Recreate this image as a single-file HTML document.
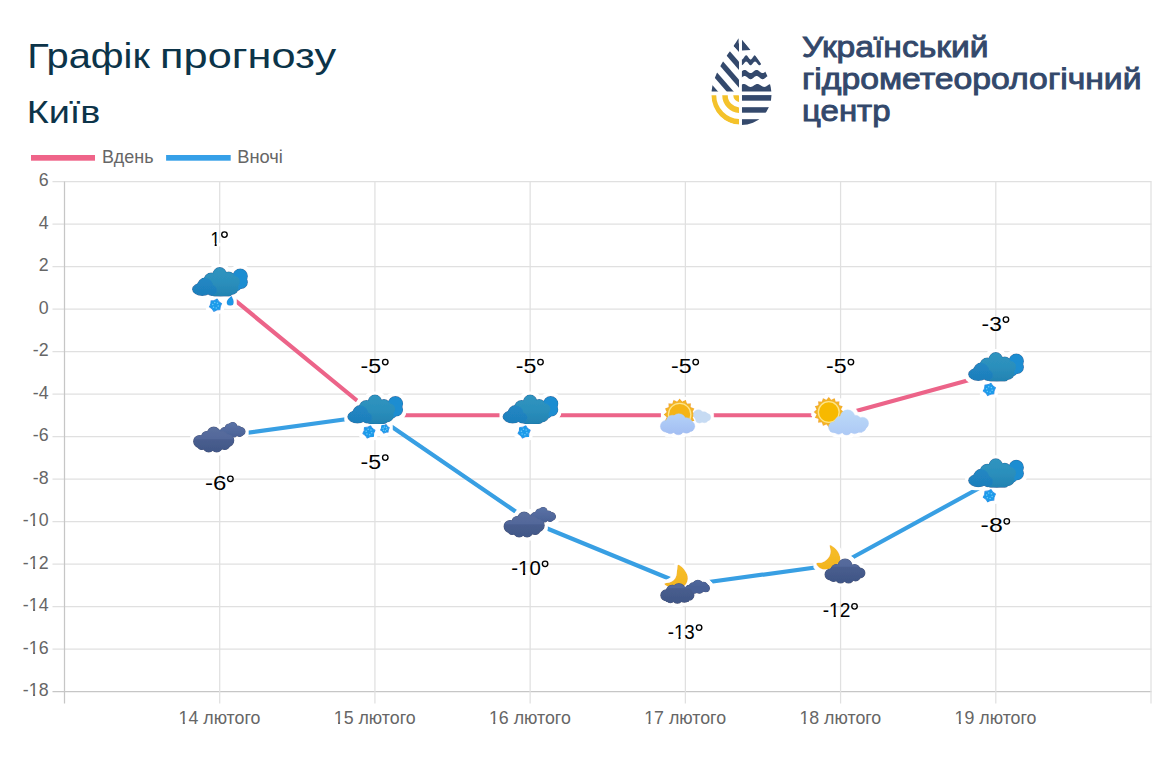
<!DOCTYPE html><html><head><meta charset="utf-8"><style>
html,body{margin:0;padding:0;background:#fff;width:1176px;height:767px;overflow:hidden}
svg{display:block}
text{font-family:"Liberation Sans",sans-serif}
</style></head><body>
<svg width="1176" height="767" viewBox="0 0 1176 767">
<defs>
<filter id="halo" x="-30%" y="-30%" width="160%" height="160%">
<feMorphology in="SourceAlpha" operator="dilate" radius="2.6" result="d"/>
<feFlood flood-color="#ffffff"/><feComposite in2="d" operator="in" result="w"/>
<feMerge><feMergeNode in="w"/><feMergeNode in="SourceGraphic"/></feMerge>
</filter>
<linearGradient id="gBlue" gradientUnits="userSpaceOnUse" x1="-27" y1="0" x2="27" y2="0">
<stop offset="0" stop-color="#1e7fc0"/><stop offset="0.5" stop-color="#2a91c2"/><stop offset="1" stop-color="#2190c8"/></linearGradient>
<linearGradient id="gTeal" gradientUnits="userSpaceOnUse" x1="0" y1="-20" x2="0" y2="8">
<stop offset="0" stop-color="#3094bf"/><stop offset="0.5" stop-color="#2b8fbc"/><stop offset="1" stop-color="#2383b2"/></linearGradient>
<linearGradient id="gFront" gradientUnits="userSpaceOnUse" x1="0" y1="-9" x2="0" y2="8">
<stop offset="0" stop-color="#2187c3"/><stop offset="1" stop-color="#1e7ebb"/></linearGradient>
<linearGradient id="gDark" gradientUnits="userSpaceOnUse" x1="0" y1="-9" x2="0" y2="16">
<stop offset="0" stop-color="#5a6f9e"/><stop offset="0.45" stop-color="#52679a"/><stop offset="0.5" stop-color="#485d8e"/><stop offset="1" stop-color="#415787"/></linearGradient>
<linearGradient id="gDarkB" gradientUnits="userSpaceOnUse" x1="0" y1="-14" x2="0" y2="1">
<stop offset="0" stop-color="#5a72a6"/><stop offset="1" stop-color="#4a6195"/></linearGradient>
<linearGradient id="gMoon" gradientUnits="userSpaceOnUse" x1="0" y1="-20" x2="0" y2="4">
<stop offset="0" stop-color="#f6be2c"/><stop offset="1" stop-color="#f3b51e"/></linearGradient>
<linearGradient id="gLight" gradientUnits="userSpaceOnUse" x1="0" y1="-2" x2="0" y2="20">
<stop offset="0" stop-color="#b4d2f8"/><stop offset="1" stop-color="#a2bdf2"/></linearGradient>
<linearGradient id="gLight2" gradientUnits="userSpaceOnUse" x1="0" y1="-5" x2="0" y2="20">
<stop offset="0" stop-color="#bcdaf8"/><stop offset="1" stop-color="#adc9f5"/></linearGradient>
<clipPath id="dropL"><path d="M740.5,37.5 C748,47 771.5,70 771.5,95 A30 30 0 0 1 711.5,95 C711.5,72 733,47 740.5,37.5 Z" transform="translate(0,0)"/></clipPath>
</defs>

<text x="27.19" y="67.5" font-size="35" fill="#0c3449" textLength="122.72" lengthAdjust="spacingAndGlyphs">Графік</text>
<text x="160.11" y="67.5" font-size="35" fill="#0c3449" textLength="175.97" lengthAdjust="spacingAndGlyphs">прогнозу</text>
<text x="26.7" y="122.6" font-size="31" fill="#0c3449" textLength="73.7" lengthAdjust="spacingAndGlyphs">Київ</text>
<g fill="#33486b" stroke="#33486b" stroke-width="0.9" font-size="29.5">
<text x="802.05" y="56.8" textLength="186.51" lengthAdjust="spacingAndGlyphs">Український</text>
<text x="801.92" y="88.5" textLength="339.65" lengthAdjust="spacingAndGlyphs">гідрометеорологічний</text>
<text x="802.07" y="120.8" textLength="88.45" lengthAdjust="spacingAndGlyphs">центр</text>
</g>
<g clip-path="url(#dropL)">
<g><clipPath id="lu"><rect x="700" y="30" width="39" height="61.6"/></clipPath></g>
<g clip-path="url(#lu)" stroke="#34496c" stroke-width="5.3" fill="none">
<line x1="654.6" y1="22.6" x2="734.6" y2="114.6"/>
<line x1="670.2" y1="22.6" x2="750.2" y2="114.6"/>
<line x1="685.8" y1="22.6" x2="765.8" y2="114.6"/>
<line x1="701.4" y1="22.6" x2="781.4" y2="114.6"/>
<line x1="717.0" y1="22.6" x2="797.0" y2="114.6"/>
<line x1="732.6" y1="22.6" x2="812.6" y2="114.6"/>
</g>
<g><clipPath id="ll"><rect x="700" y="95.2" width="39" height="40"/></clipPath></g>
<g clip-path="url(#ll)" stroke="#f4c22b" stroke-width="5.5" fill="none">
<circle cx="740" cy="95.2" r="4"/>
<circle cx="740" cy="95.2" r="15"/>
<circle cx="740" cy="95.2" r="26.5"/>
</g>
<g><clipPath id="rr"><rect x="741.9" y="30" width="40" height="100"/></clipPath></g>
<g clip-path="url(#rr)" fill="#34496c">
<path d="M741.9,39.4 L750.6,50.1 L741.9,50.4 Z"/>
<path d="M741.00,59.17 L741.25,59.34 L741.50,59.45 L741.75,59.50 L742.00,59.48 L742.25,59.39 L742.50,59.24 L742.75,59.04 L743.00,58.78 L743.25,58.47 L743.50,58.13 L743.75,57.77 L744.00,57.40 L744.25,57.03 L744.50,56.67 L744.75,56.33 L745.00,56.02 L745.25,55.76 L745.50,55.56 L745.75,55.41 L746.00,55.32 L746.25,55.30 L746.50,55.35 L746.75,55.46 L747.00,55.63 L747.25,55.86 L747.50,56.14 L747.75,56.46 L748.00,56.81 L748.25,57.18 L748.50,57.55 L748.75,57.92 L749.00,58.27 L749.25,58.60 L749.50,58.88 L749.75,59.12 L750.00,59.31 L750.25,59.43 L750.50,59.49 L750.75,59.49 L751.00,59.41 L751.25,59.28 L751.50,59.08 L751.75,58.83 L752.00,58.54 L752.25,58.20 L752.50,57.85 L752.75,57.47 L753.00,57.10 L753.25,56.74 L753.50,56.39 L753.75,56.08 L754.00,55.81 L754.25,55.59 L754.50,55.43 L754.75,55.33 L755.00,55.30 L755.25,55.33 L755.50,55.43 L755.75,55.59 L756.00,55.81 L756.25,56.08 L756.50,56.39 L756.75,56.74 L757.00,57.10 L757.25,57.47 L757.50,57.85 L757.75,58.20 L758.00,58.54 L758.25,58.83 L758.50,59.08 L758.75,59.28 L759.00,59.41 L759.25,59.49 L759.50,59.49 L759.75,59.43 L760.00,59.31 L760.25,59.12 L760.50,58.88 L760.75,58.60 L761.00,58.27 L761.25,57.92 L761.50,57.55 L761.75,57.18 L762.00,56.81 L762.25,56.46 L762.50,56.14 L762.75,55.86 L763.00,55.63 L763.25,55.46 L763.50,55.35 L763.75,55.30 L764.00,55.32 L764.25,55.41 L764.50,55.56 L764.75,55.76 L765.00,56.02 L765.25,56.33 L765.50,56.67 L765.75,57.03 L766.00,57.40 L766.25,57.77 L766.50,58.13 L766.75,58.47 L767.00,58.78 L767.25,59.04 L767.50,59.24 L767.75,59.39 L768.00,59.48 L768.25,59.50 L768.50,59.45 L768.75,59.34 L769.00,59.17 L769.25,58.94 L769.50,58.66 L769.75,58.34 L770.00,57.99 L770.25,57.62 L770.50,57.25 L770.75,56.88 L771.00,56.53 L771.25,56.20 L771.50,55.92 L771.75,55.68 L772.00,55.49 L772.25,55.37 L772.50,55.31 L772.75,55.31 L773.00,55.39 L773.25,55.52 L773.50,55.72 L773.75,55.97 L774.00,56.26 L774.25,56.60 L774.50,56.95 L774.75,57.33 L775.00,57.70 L775.00,63.66 L774.75,63.34 L774.50,63.02 L774.25,62.71 L774.00,62.43 L773.75,62.17 L773.50,61.96 L773.25,61.79 L773.00,61.67 L772.75,61.61 L772.50,61.60 L772.25,61.66 L772.00,61.76 L771.75,61.92 L771.50,62.13 L771.25,62.37 L771.00,62.65 L770.75,62.95 L770.50,63.27 L770.25,63.59 L770.00,63.91 L769.75,64.21 L769.50,64.48 L769.25,64.72 L769.00,64.91 L768.75,65.06 L768.50,65.16 L768.25,65.20 L768.00,65.18 L767.75,65.11 L767.50,64.98 L767.25,64.80 L767.00,64.58 L766.75,64.32 L766.50,64.03 L766.25,63.72 L766.00,63.40 L765.75,63.08 L765.50,62.77 L765.25,62.48 L765.00,62.22 L764.75,62.00 L764.50,61.82 L764.25,61.69 L764.00,61.62 L763.75,61.60 L763.50,61.64 L763.25,61.74 L763.00,61.89 L762.75,62.08 L762.50,62.32 L762.25,62.59 L762.00,62.89 L761.75,63.21 L761.50,63.53 L761.25,63.85 L761.00,64.15 L760.75,64.43 L760.50,64.67 L760.25,64.88 L760.00,65.04 L759.75,65.14 L759.50,65.20 L759.25,65.19 L759.00,65.13 L758.75,65.01 L758.50,64.84 L758.25,64.63 L758.00,64.37 L757.75,64.09 L757.50,63.78 L757.25,63.46 L757.00,63.14 L756.75,62.83 L756.50,62.54 L756.25,62.27 L756.00,62.04 L755.75,61.85 L755.50,61.71 L755.25,61.63 L755.00,61.60 L754.75,61.63 L754.50,61.71 L754.25,61.85 L754.00,62.04 L753.75,62.27 L753.50,62.54 L753.25,62.83 L753.00,63.14 L752.75,63.46 L752.50,63.78 L752.25,64.09 L752.00,64.37 L751.75,64.63 L751.50,64.84 L751.25,65.01 L751.00,65.13 L750.75,65.19 L750.50,65.20 L750.25,65.14 L750.00,65.04 L749.75,64.88 L749.50,64.67 L749.25,64.43 L749.00,64.15 L748.75,63.85 L748.50,63.53 L748.25,63.21 L748.00,62.89 L747.75,62.59 L747.50,62.32 L747.25,62.08 L747.00,61.89 L746.75,61.74 L746.50,61.64 L746.25,61.60 L746.00,61.62 L745.75,61.69 L745.50,61.82 L745.25,62.00 L745.00,62.22 L744.75,62.48 L744.50,62.77 L744.25,63.08 L744.00,63.40 L743.75,63.72 L743.50,64.03 L743.25,64.32 L743.00,64.58 L742.75,64.80 L742.50,64.98 L742.25,65.11 L742.00,65.18 L741.75,65.20 L741.50,65.16 L741.25,65.06 L741.00,64.91 Z"/>
<path d="M741.00,71.99 L741.25,71.79 L741.50,71.58 L741.75,71.37 L742.00,71.17 L742.25,70.97 L742.50,70.77 L742.75,70.59 L743.00,70.43 L743.25,70.28 L743.50,70.16 L743.75,70.06 L744.00,69.98 L744.25,69.93 L744.50,69.90 L744.75,69.90 L745.00,69.93 L745.25,69.99 L745.50,70.07 L745.75,70.18 L746.00,70.31 L746.25,70.46 L746.50,70.63 L746.75,70.81 L747.00,71.01 L747.25,71.21 L747.50,71.42 L747.75,71.63 L748.00,71.83 L748.25,72.03 L748.50,72.23 L748.75,72.41 L749.00,72.57 L749.25,72.72 L749.50,72.84 L749.75,72.94 L750.00,73.02 L750.25,73.07 L750.50,73.10 L750.75,73.10 L751.00,73.07 L751.25,73.01 L751.50,72.93 L751.75,72.82 L752.00,72.69 L752.25,72.54 L752.50,72.37 L752.75,72.19 L753.00,71.99 L753.25,71.79 L753.50,71.58 L753.75,71.37 L754.00,71.17 L754.25,70.97 L754.50,70.77 L754.75,70.59 L755.00,70.43 L755.25,70.28 L755.50,70.16 L755.75,70.06 L756.00,69.98 L756.25,69.93 L756.50,69.90 L756.75,69.90 L757.00,69.93 L757.25,69.99 L757.50,70.07 L757.75,70.18 L758.00,70.31 L758.25,70.46 L758.50,70.63 L758.75,70.81 L759.00,71.01 L759.25,71.21 L759.50,71.42 L759.75,71.63 L760.00,71.83 L760.25,72.03 L760.50,72.23 L760.75,72.41 L761.00,72.57 L761.25,72.72 L761.50,72.84 L761.75,72.94 L762.00,73.02 L762.25,73.07 L762.50,73.10 L762.75,73.10 L763.00,73.07 L763.25,73.01 L763.50,72.93 L763.75,72.82 L764.00,72.69 L764.25,72.54 L764.50,72.37 L764.75,72.19 L765.00,71.99 L765.25,71.79 L765.50,71.58 L765.75,71.37 L766.00,71.17 L766.25,70.97 L766.50,70.77 L766.75,70.59 L767.00,70.43 L767.25,70.28 L767.50,70.16 L767.75,70.06 L768.00,69.98 L768.25,69.93 L768.50,69.90 L768.75,69.90 L769.00,69.93 L769.25,69.99 L769.50,70.07 L769.75,70.18 L770.00,70.31 L770.25,70.46 L770.50,70.63 L770.75,70.81 L771.00,71.01 L771.25,71.21 L771.50,71.42 L771.75,71.63 L772.00,71.83 L772.25,72.03 L772.50,72.23 L772.75,72.41 L773.00,72.57 L773.25,72.72 L773.50,72.84 L773.75,72.94 L774.00,73.02 L774.25,73.07 L774.50,73.10 L774.75,73.10 L775.00,73.07 L775.00,79.17 L774.75,79.20 L774.50,79.20 L774.25,79.17 L774.00,79.12 L773.75,79.04 L773.50,78.94 L773.25,78.82 L773.00,78.67 L772.75,78.51 L772.50,78.33 L772.25,78.13 L772.00,77.93 L771.75,77.73 L771.50,77.52 L771.25,77.31 L771.00,77.11 L770.75,76.91 L770.50,76.73 L770.25,76.56 L770.00,76.41 L769.75,76.28 L769.50,76.17 L769.25,76.09 L769.00,76.03 L768.75,76.00 L768.50,76.00 L768.25,76.03 L768.00,76.08 L767.75,76.16 L767.50,76.26 L767.25,76.38 L767.00,76.53 L766.75,76.69 L766.50,76.87 L766.25,77.07 L766.00,77.27 L765.75,77.47 L765.50,77.68 L765.25,77.89 L765.00,78.09 L764.75,78.29 L764.50,78.47 L764.25,78.64 L764.00,78.79 L763.75,78.92 L763.50,79.03 L763.25,79.11 L763.00,79.17 L762.75,79.20 L762.50,79.20 L762.25,79.17 L762.00,79.12 L761.75,79.04 L761.50,78.94 L761.25,78.82 L761.00,78.67 L760.75,78.51 L760.50,78.33 L760.25,78.13 L760.00,77.93 L759.75,77.73 L759.50,77.52 L759.25,77.31 L759.00,77.11 L758.75,76.91 L758.50,76.73 L758.25,76.56 L758.00,76.41 L757.75,76.28 L757.50,76.17 L757.25,76.09 L757.00,76.03 L756.75,76.00 L756.50,76.00 L756.25,76.03 L756.00,76.08 L755.75,76.16 L755.50,76.26 L755.25,76.38 L755.00,76.53 L754.75,76.69 L754.50,76.87 L754.25,77.07 L754.00,77.27 L753.75,77.47 L753.50,77.68 L753.25,77.89 L753.00,78.09 L752.75,78.29 L752.50,78.47 L752.25,78.64 L752.00,78.79 L751.75,78.92 L751.50,79.03 L751.25,79.11 L751.00,79.17 L750.75,79.20 L750.50,79.20 L750.25,79.17 L750.00,79.12 L749.75,79.04 L749.50,78.94 L749.25,78.82 L749.00,78.67 L748.75,78.51 L748.50,78.33 L748.25,78.13 L748.00,77.93 L747.75,77.73 L747.50,77.52 L747.25,77.31 L747.00,77.11 L746.75,76.91 L746.50,76.73 L746.25,76.56 L746.00,76.41 L745.75,76.28 L745.50,76.17 L745.25,76.09 L745.00,76.03 L744.75,76.00 L744.50,76.00 L744.25,76.03 L744.00,76.08 L743.75,76.16 L743.50,76.26 L743.25,76.38 L743.00,76.53 L742.75,76.69 L742.50,76.87 L742.25,77.07 L742.00,77.27 L741.75,77.47 L741.50,77.68 L741.25,77.89 L741.00,78.09 Z"/>
<path d="M741.00,85.05 L741.25,84.90 L741.50,84.74 L741.75,84.60 L742.00,84.47 L742.25,84.36 L742.50,84.25 L742.75,84.17 L743.00,84.10 L743.25,84.05 L743.50,84.01 L743.75,84.00 L744.00,84.01 L744.25,84.03 L744.50,84.08 L744.75,84.14 L745.00,84.22 L745.25,84.31 L745.50,84.42 L745.75,84.55 L746.00,84.69 L746.25,84.83 L746.50,84.99 L746.75,85.15 L747.00,85.32 L747.25,85.48 L747.50,85.65 L747.75,85.81 L748.00,85.97 L748.25,86.13 L748.50,86.27 L748.75,86.40 L749.00,86.52 L749.25,86.63 L749.50,86.72 L749.75,86.79 L750.00,86.84 L750.25,86.88 L750.50,86.90 L750.75,86.90 L751.00,86.88 L751.25,86.84 L751.50,86.78 L751.75,86.70 L752.00,86.61 L752.25,86.50 L752.50,86.38 L752.75,86.24 L753.00,86.10 L753.25,85.94 L753.50,85.78 L753.75,85.62 L754.00,85.45 L754.25,85.28 L754.50,85.12 L754.75,84.96 L755.00,84.80 L755.25,84.66 L755.50,84.52 L755.75,84.40 L756.00,84.29 L756.25,84.20 L756.50,84.12 L756.75,84.06 L757.00,84.02 L757.25,84.00 L757.50,84.00 L757.75,84.02 L758.00,84.06 L758.25,84.11 L758.50,84.18 L758.75,84.27 L759.00,84.38 L759.25,84.50 L759.50,84.63 L759.75,84.77 L760.00,84.93 L760.25,85.09 L760.50,85.25 L760.75,85.42 L761.00,85.58 L761.25,85.75 L761.50,85.91 L761.75,86.07 L762.00,86.21 L762.25,86.35 L762.50,86.48 L762.75,86.59 L763.00,86.68 L763.25,86.76 L763.50,86.82 L763.75,86.87 L764.00,86.89 L764.25,86.90 L764.50,86.89 L764.75,86.85 L765.00,86.80 L765.25,86.73 L765.50,86.65 L765.75,86.54 L766.00,86.43 L766.25,86.30 L766.50,86.16 L766.75,86.00 L767.00,85.85 L767.25,85.68 L767.50,85.52 L767.75,85.35 L768.00,85.18 L768.25,85.02 L768.50,84.86 L768.75,84.72 L769.00,84.58 L769.25,84.45 L769.50,84.33 L769.75,84.24 L770.00,84.15 L770.25,84.09 L770.50,84.04 L770.75,84.01 L771.00,84.00 L771.25,84.01 L771.50,84.04 L771.75,84.09 L772.00,84.15 L772.25,84.24 L772.50,84.33 L772.75,84.45 L773.00,84.58 L773.25,84.72 L773.50,84.86 L773.75,85.02 L774.00,85.18 L774.25,85.35 L774.50,85.52 L774.75,85.68 L775.00,85.85 L775.00,91.6 L741.00,91.6 Z"/>
<rect x="741.9" y="95.1" width="40" height="5.6"/>
<rect x="741.9" y="107.2" width="40" height="5.5"/>
<rect x="741.9" y="119.2" width="40" height="6"/>
</g>
</g>
<path d="M733.6,46 L738.6,38.2 L738.6,50.8 Z" fill="#34496c"/>
<rect x="31" y="155" width="64" height="5.7" fill="#ef6489"/>
<text x="102.14" y="162.7" font-size="17.8" fill="#666" textLength="51.4" lengthAdjust="spacingAndGlyphs">Вдень</text>
<rect x="166.1" y="155" width="64.6" height="5.7" fill="#36a0e8"/>
<text x="237.21" y="162.7" font-size="17.8" fill="#666" textLength="45.61" lengthAdjust="spacingAndGlyphs">Вночі</text>
<line x1="52.5" y1="181.50" x2="1151.5" y2="181.50" stroke="#e0e0e0" stroke-width="1.25"/>
<text x="38.70" y="186.40" font-size="17.8" fill="#666">6</text>

<line x1="52.5" y1="224.00" x2="1151.5" y2="224.00" stroke="#e0e0e0" stroke-width="1.25"/>
<text x="38.70" y="228.90" font-size="17.8" fill="#666">4</text>

<line x1="52.5" y1="266.50" x2="1151.5" y2="266.50" stroke="#e0e0e0" stroke-width="1.25"/>
<text x="38.70" y="271.40" font-size="17.8" fill="#666">2</text>

<line x1="52.5" y1="309.00" x2="1151.5" y2="309.00" stroke="#e0e0e0" stroke-width="1.25"/>
<text x="38.70" y="313.90" font-size="17.8" fill="#666">0</text>

<line x1="52.5" y1="351.50" x2="1151.5" y2="351.50" stroke="#e0e0e0" stroke-width="1.25"/>
<text x="32.77" y="356.40" font-size="17.8" fill="#666">-2</text>

<line x1="52.5" y1="394.00" x2="1151.5" y2="394.00" stroke="#e0e0e0" stroke-width="1.25"/>
<text x="32.77" y="398.90" font-size="17.8" fill="#666">-4</text>

<line x1="52.5" y1="436.50" x2="1151.5" y2="436.50" stroke="#e0e0e0" stroke-width="1.25"/>
<text x="32.77" y="441.40" font-size="17.8" fill="#666">-6</text>

<line x1="52.5" y1="479.00" x2="1151.5" y2="479.00" stroke="#e0e0e0" stroke-width="1.25"/>
<text x="32.77" y="483.90" font-size="17.8" fill="#666">-8</text>

<line x1="52.5" y1="521.50" x2="1151.5" y2="521.50" stroke="#e0e0e0" stroke-width="1.25"/>
<text x="22.87" y="526.40" font-size="17.8" fill="#666">-10</text>
<rect x="28.80" y="523.91" width="4.22" height="3.39" fill="#fff"/><rect x="35.10" y="523.91" width="4.08" height="3.39" fill="#fff"/>
<line x1="52.5" y1="564.00" x2="1151.5" y2="564.00" stroke="#e0e0e0" stroke-width="1.25"/>
<text x="22.87" y="568.90" font-size="17.8" fill="#666">-12</text>
<rect x="28.80" y="566.41" width="4.22" height="3.39" fill="#fff"/><rect x="35.10" y="566.41" width="4.08" height="3.39" fill="#fff"/>
<line x1="52.5" y1="606.50" x2="1151.5" y2="606.50" stroke="#e0e0e0" stroke-width="1.25"/>
<text x="22.87" y="611.40" font-size="17.8" fill="#666">-14</text>
<rect x="28.80" y="608.91" width="4.22" height="3.39" fill="#fff"/><rect x="35.10" y="608.91" width="4.08" height="3.39" fill="#fff"/>
<line x1="52.5" y1="649.00" x2="1151.5" y2="649.00" stroke="#e0e0e0" stroke-width="1.25"/>
<text x="22.87" y="653.90" font-size="17.8" fill="#666">-16</text>
<rect x="28.80" y="651.41" width="4.22" height="3.39" fill="#fff"/><rect x="35.10" y="651.41" width="4.08" height="3.39" fill="#fff"/>
<line x1="52.5" y1="691.50" x2="1151.5" y2="691.50" stroke="#c6c6c6" stroke-width="1.25"/>
<text x="22.87" y="696.40" font-size="17.8" fill="#666">-18</text>
<rect x="28.80" y="693.91" width="4.22" height="3.39" fill="#fff"/><rect x="35.10" y="693.91" width="4.08" height="3.39" fill="#fff"/>
<line x1="64.50" y1="181.5" x2="64.50" y2="703.5" stroke="#c6c6c6" stroke-width="1.25"/>
<line x1="219.71" y1="181.5" x2="219.71" y2="703.5" stroke="#e0e0e0" stroke-width="1.25"/>
<line x1="374.93" y1="181.5" x2="374.93" y2="703.5" stroke="#e0e0e0" stroke-width="1.25"/>
<line x1="530.14" y1="181.5" x2="530.14" y2="703.5" stroke="#e0e0e0" stroke-width="1.25"/>
<line x1="685.36" y1="181.5" x2="685.36" y2="703.5" stroke="#e0e0e0" stroke-width="1.25"/>
<line x1="840.57" y1="181.5" x2="840.57" y2="703.5" stroke="#e0e0e0" stroke-width="1.25"/>
<line x1="995.79" y1="181.5" x2="995.79" y2="703.5" stroke="#e0e0e0" stroke-width="1.25"/>
<line x1="1151.00" y1="181.5" x2="1151.00" y2="703.5" stroke="#e0e0e0" stroke-width="1.25"/>
<text x="178.55" y="723.7" font-size="17.8" fill="#666">14 лютого</text>
<rect x="178.56" y="721.21" width="4.22" height="3.39" fill="#fff"/><rect x="184.85" y="721.21" width="4.08" height="3.39" fill="#fff"/>
<text x="333.77" y="723.7" font-size="17.8" fill="#666">15 лютого</text>
<rect x="333.77" y="721.21" width="4.22" height="3.39" fill="#fff"/><rect x="340.07" y="721.21" width="4.08" height="3.39" fill="#fff"/>
<text x="488.98" y="723.7" font-size="17.8" fill="#666">16 лютого</text>
<rect x="488.98" y="721.21" width="4.22" height="3.39" fill="#fff"/><rect x="495.28" y="721.21" width="4.08" height="3.39" fill="#fff"/>
<text x="644.19" y="723.7" font-size="17.8" fill="#666">17 лютого</text>
<rect x="644.20" y="721.21" width="4.22" height="3.39" fill="#fff"/><rect x="650.49" y="721.21" width="4.08" height="3.39" fill="#fff"/>
<text x="799.41" y="723.7" font-size="17.8" fill="#666">18 лютого</text>
<rect x="799.41" y="721.21" width="4.22" height="3.39" fill="#fff"/><rect x="805.71" y="721.21" width="4.08" height="3.39" fill="#fff"/>
<text x="954.62" y="723.7" font-size="17.8" fill="#666">19 лютого</text>
<rect x="954.63" y="721.21" width="4.22" height="3.39" fill="#fff"/><rect x="960.92" y="721.21" width="4.08" height="3.39" fill="#fff"/>
<polyline points="219.71,436.50 374.93,415.25 530.14,521.50 685.36,585.25 840.57,564.00 995.79,479.00" fill="none" stroke="#389fe3" stroke-width="4.2" stroke-linejoin="round"/>
<polyline points="219.71,287.75 374.93,415.25 530.14,415.25 685.36,415.25 840.57,415.25 995.79,372.75" fill="none" stroke="#ec6489" stroke-width="4.2" stroke-linejoin="round"/>
<g transform="translate(219.71,436.50)" filter="url(#halo)"><g fill="#3c4f7c" stroke="#3c4f7c" stroke-width="1.2"><circle cx="1" cy="-3" r="3.5"/><circle cx="5" cy="-5" r="4"/><circle cx="9.5" cy="-8.5" r="4"/><circle cx="13" cy="-10" r="4"/><circle cx="18" cy="-6.5" r="4"/><circle cx="21.5" cy="-5" r="3.8"/><circle cx="14" cy="-3" r="3.5"/><circle cx="20" cy="-3" r="3"/><circle cx="8" cy="-3" r="3.5"/><circle cx="-20" cy="5" r="6"/><circle cx="-13" cy="0" r="5"/><circle cx="-6" cy="-3" r="6.3"/><circle cx="2" cy="1" r="6"/><circle cx="8" cy="4" r="6"/><circle cx="-18" cy="9" r="4"/><circle cx="-11" cy="10" r="5.5"/><circle cx="-3" cy="10" r="5.5"/><circle cx="5" cy="8" r="5"/><rect x="-20" y="0" width="26" height="12"/></g><g fill="url(#gDarkB)" stroke="url(#gDarkB)" stroke-width="0.5"><circle cx="1" cy="-3" r="3.5"/><circle cx="5" cy="-5" r="4"/><circle cx="9.5" cy="-8.5" r="4"/><circle cx="13" cy="-10" r="4"/><circle cx="18" cy="-6.5" r="4"/><circle cx="21.5" cy="-5" r="3.8"/><circle cx="14" cy="-3" r="3.5"/><circle cx="20" cy="-3" r="3"/><circle cx="8" cy="-3" r="3.5"/></g><g fill="url(#gDark)" stroke="url(#gDark)" stroke-width="0.5"><circle cx="-20" cy="5" r="6"/><circle cx="-13" cy="0" r="5"/><circle cx="-6" cy="-3" r="6.3"/><circle cx="2" cy="1" r="6"/><circle cx="8" cy="4" r="6"/><circle cx="-18" cy="9" r="4"/><circle cx="-11" cy="10" r="5.5"/><circle cx="-3" cy="10" r="5.5"/><circle cx="5" cy="8" r="5"/><rect x="-20" y="0" width="26" height="12"/></g></g>
<g transform="translate(530.14,521.50)" filter="url(#halo)"><g fill="#3c4f7c" stroke="#3c4f7c" stroke-width="1.2"><circle cx="1" cy="-3" r="3.5"/><circle cx="5" cy="-5" r="4"/><circle cx="9.5" cy="-8.5" r="4"/><circle cx="13" cy="-10" r="4"/><circle cx="18" cy="-6.5" r="4"/><circle cx="21.5" cy="-5" r="3.8"/><circle cx="14" cy="-3" r="3.5"/><circle cx="20" cy="-3" r="3"/><circle cx="8" cy="-3" r="3.5"/><circle cx="-20" cy="5" r="6"/><circle cx="-13" cy="0" r="5"/><circle cx="-6" cy="-3" r="6.3"/><circle cx="2" cy="1" r="6"/><circle cx="8" cy="4" r="6"/><circle cx="-18" cy="9" r="4"/><circle cx="-11" cy="10" r="5.5"/><circle cx="-3" cy="10" r="5.5"/><circle cx="5" cy="8" r="5"/><rect x="-20" y="0" width="26" height="12"/></g><g fill="url(#gDarkB)" stroke="url(#gDarkB)" stroke-width="0.5"><circle cx="1" cy="-3" r="3.5"/><circle cx="5" cy="-5" r="4"/><circle cx="9.5" cy="-8.5" r="4"/><circle cx="13" cy="-10" r="4"/><circle cx="18" cy="-6.5" r="4"/><circle cx="21.5" cy="-5" r="3.8"/><circle cx="14" cy="-3" r="3.5"/><circle cx="20" cy="-3" r="3"/><circle cx="8" cy="-3" r="3.5"/></g><g fill="url(#gDark)" stroke="url(#gDark)" stroke-width="0.5"><circle cx="-20" cy="5" r="6"/><circle cx="-13" cy="0" r="5"/><circle cx="-6" cy="-3" r="6.3"/><circle cx="2" cy="1" r="6"/><circle cx="8" cy="4" r="6"/><circle cx="-18" cy="9" r="4"/><circle cx="-11" cy="10" r="5.5"/><circle cx="-3" cy="10" r="5.5"/><circle cx="5" cy="8" r="5"/><rect x="-20" y="0" width="26" height="12"/></g></g>
<g transform="translate(685.36,585.25)" filter="url(#halo)"><path d="M-7.20,-20.60 C-6.20,-20.80 -3.65,-18.62 -2.20,-17.10 C-0.75,-15.58 0.72,-13.27 1.50,-11.50 C2.28,-9.73 2.60,-8.17 2.50,-6.50 C2.40,-4.83 1.58,-2.75 0.90,-1.50 C0.22,-0.25 -0.45,0.25 -1.60,1.00 C-2.75,1.75 -4.27,2.67 -6.00,3.00 C-7.73,3.33 -10.02,3.33 -12.00,3.00 C-13.98,2.67 -16.40,1.75 -17.90,1.00 C-19.40,0.25 -21.32,-0.88 -21.00,-1.50 C-20.68,-2.12 -17.57,-2.08 -16.00,-2.70 C-14.43,-3.32 -12.75,-4.05 -11.60,-5.20 C-10.45,-6.35 -9.67,-7.82 -9.10,-9.60 C-8.53,-11.38 -8.52,-14.07 -8.20,-15.90 C-7.88,-17.73 -8.20,-20.40 -7.20,-20.60 Z" fill="url(#gMoon)" /><g fill="#3c4f7c" stroke="#3c4f7c" stroke-width="1.2"><circle cx="4" cy="4" r="4"/><circle cx="8" cy="2" r="4.5"/><circle cx="12.5" cy="0" r="5"/><circle cx="18" cy="1.5" r="4.5"/><circle cx="20.5" cy="3" r="3.5"/><circle cx="14" cy="4" r="4"/><circle cx="9" cy="4.5" r="3.5"/><circle cx="-19" cy="10" r="5.5"/><circle cx="-13" cy="6" r="6"/><circle cx="-6.5" cy="5" r="6.5"/><circle cx="1" cy="8" r="6"/><circle cx="3.5" cy="10" r="5"/><circle cx="-15" cy="13" r="4.5"/><circle cx="-8" cy="13" r="5"/><circle cx="-1" cy="12" r="5"/><rect x="-19" y="6" width="22" height="10"/></g><g fill="url(#gDarkB)" stroke="url(#gDarkB)" stroke-width="0.5"><circle cx="4" cy="4" r="4"/><circle cx="8" cy="2" r="4.5"/><circle cx="12.5" cy="0" r="5"/><circle cx="18" cy="1.5" r="4.5"/><circle cx="20.5" cy="3" r="3.5"/><circle cx="14" cy="4" r="4"/><circle cx="9" cy="4.5" r="3.5"/></g><g fill="url(#gDark)" stroke="url(#gDark)" stroke-width="0.5"><circle cx="-19" cy="10" r="5.5"/><circle cx="-13" cy="6" r="6"/><circle cx="-6.5" cy="5" r="6.5"/><circle cx="1" cy="8" r="6"/><circle cx="3.5" cy="10" r="5"/><circle cx="-15" cy="13" r="4.5"/><circle cx="-8" cy="13" r="5"/><circle cx="-1" cy="12" r="5"/><rect x="-19" y="6" width="22" height="10"/></g></g>
<g transform="translate(840.57,564.00)" filter="url(#halo)"><path d="M-10.60,-19.00 C-9.65,-19.32 -5.87,-16.17 -4.30,-14.60 C-2.73,-13.03 -1.88,-11.17 -1.20,-9.60 C-0.53,-8.03 -0.25,-6.45 -0.25,-5.20 C-0.25,-3.95 -0.41,-3.30 -1.20,-2.10 C-1.99,-0.90 -3.53,0.90 -5.00,2.00 C-6.47,3.10 -8.23,3.93 -10.00,4.50 C-11.77,5.07 -13.83,5.45 -15.60,5.40 C-17.37,5.35 -19.15,5.18 -20.60,4.20 C-22.05,3.22 -24.62,0.45 -24.30,-0.50 C-23.98,-1.45 -20.37,-0.92 -18.70,-1.50 C-17.03,-2.08 -15.55,-2.97 -14.30,-4.00 C-13.05,-5.03 -11.92,-6.25 -11.20,-7.70 C-10.48,-9.15 -10.10,-10.82 -10.00,-12.70 C-9.90,-14.58 -11.55,-18.68 -10.60,-19.00 Z" fill="url(#gMoon)" /><g fill="#3c4f7c" stroke="#3c4f7c" stroke-width="1.2"><circle cx="-10" cy="10.5" r="5.5"/><circle cx="-4" cy="6" r="5.5"/><circle cx="4.5" cy="2" r="7"/><circle cx="14" cy="6" r="5.5"/><circle cx="19.5" cy="9" r="4.8"/><circle cx="-7" cy="13" r="4.5"/><circle cx="0" cy="14" r="5"/><circle cx="8" cy="14" r="5"/><circle cx="15" cy="12.5" r="4.5"/><rect x="-10" y="5" width="28" height="10"/></g><g fill="url(#gDark)" stroke="url(#gDark)" stroke-width="0.5"><circle cx="-10" cy="10.5" r="5.5"/><circle cx="-4" cy="6" r="5.5"/><circle cx="4.5" cy="2" r="7"/><circle cx="14" cy="6" r="5.5"/><circle cx="19.5" cy="9" r="4.8"/><circle cx="-7" cy="13" r="4.5"/><circle cx="0" cy="14" r="5"/><circle cx="8" cy="14" r="5"/><circle cx="15" cy="12.5" r="4.5"/><rect x="-10" y="5" width="28" height="10"/></g></g>
<g transform="translate(995.79,479.00)" filter="url(#halo)"><g fill="#1b72a6" stroke="#1b72a6" stroke-width="1.3"><circle cx="20.5" cy="-11.5" r="7"/><circle cx="21.5" cy="-5.5" r="6"/><circle cx="17" cy="-2" r="4.5"/><circle cx="-8.5" cy="-7.5" r="7"/><circle cx="0" cy="-13.5" r="6.5"/><circle cx="1" cy="-2" r="9.8"/><circle cx="9" cy="-9.5" r="6"/><circle cx="12" cy="0" r="6.5"/><circle cx="14.5" cy="-6" r="5.5"/><rect x="-8" y="-6" width="20" height="14" rx="3"/><ellipse cx="-17.5" cy="1.5" rx="9.5" ry="6"/><circle cx="-14.5" cy="-2" r="7.5"/><circle cx="-8" cy="2.5" r="5"/></g><g fill="#1d8dd1" stroke="#1d8dd1" stroke-width="0.5"><circle cx="20.5" cy="-11.5" r="7"/><circle cx="21.5" cy="-5.5" r="6"/><circle cx="17" cy="-2" r="4.5"/></g><g fill="url(#gTeal)" stroke="url(#gTeal)" stroke-width="0.5"><circle cx="-8.5" cy="-7.5" r="7"/><circle cx="0" cy="-13.5" r="6.5"/><circle cx="1" cy="-2" r="9.8"/><circle cx="9" cy="-9.5" r="6"/><circle cx="12" cy="0" r="6.5"/><circle cx="14.5" cy="-6" r="5.5"/><rect x="-8" y="-6" width="20" height="14" rx="3"/></g><g fill="url(#gFront)" stroke="url(#gFront)" stroke-width="0.5"><ellipse cx="-17.5" cy="1.5" rx="9.5" ry="6"/><circle cx="-14.5" cy="-2" r="7.5"/><circle cx="-8" cy="2.5" r="5"/></g><g transform="translate(-6.4,16.7)" fill="#1d9bea"><polygon points="6.09,-1.63 4.75,1.27 4.45,4.45 1.27,4.75 -1.63,6.09 -3.47,3.47 -6.09,1.63 -4.75,-1.27 -4.45,-4.45 -1.27,-4.75 1.63,-6.09 3.47,-3.47" stroke="#1d9bea" stroke-width="1.2" stroke-linejoin="round"/><circle cx="2.74" cy="0.73" r="0.75" fill="#6cc8fa"/><circle cx="0.73" cy="2.74" r="0.75" fill="#6cc8fa"/><circle cx="-2.00" cy="2.00" r="0.75" fill="#6cc8fa"/><circle cx="-2.74" cy="-0.73" r="0.75" fill="#6cc8fa"/><circle cx="-0.73" cy="-2.74" r="0.75" fill="#6cc8fa"/><circle cx="2.00" cy="-2.00" r="0.75" fill="#6cc8fa"/></g></g>
<g transform="translate(219.71,287.75)" filter="url(#halo)"><g fill="#1b72a6" stroke="#1b72a6" stroke-width="1.3"><circle cx="20.5" cy="-11.5" r="7"/><circle cx="21.5" cy="-5.5" r="6"/><circle cx="17" cy="-2" r="4.5"/><circle cx="-8.5" cy="-7.5" r="7"/><circle cx="0" cy="-13.5" r="6.5"/><circle cx="1" cy="-2" r="9.8"/><circle cx="9" cy="-9.5" r="6"/><circle cx="12" cy="0" r="6.5"/><circle cx="14.5" cy="-6" r="5.5"/><rect x="-8" y="-6" width="20" height="14" rx="3"/><ellipse cx="-17.5" cy="1.5" rx="9.5" ry="6"/><circle cx="-14.5" cy="-2" r="7.5"/><circle cx="-8" cy="2.5" r="5"/></g><g fill="#1d8dd1" stroke="#1d8dd1" stroke-width="0.5"><circle cx="20.5" cy="-11.5" r="7"/><circle cx="21.5" cy="-5.5" r="6"/><circle cx="17" cy="-2" r="4.5"/></g><g fill="url(#gTeal)" stroke="url(#gTeal)" stroke-width="0.5"><circle cx="-8.5" cy="-7.5" r="7"/><circle cx="0" cy="-13.5" r="6.5"/><circle cx="1" cy="-2" r="9.8"/><circle cx="9" cy="-9.5" r="6"/><circle cx="12" cy="0" r="6.5"/><circle cx="14.5" cy="-6" r="5.5"/><rect x="-8" y="-6" width="20" height="14" rx="3"/></g><g fill="url(#gFront)" stroke="url(#gFront)" stroke-width="0.5"><ellipse cx="-17.5" cy="1.5" rx="9.5" ry="6"/><circle cx="-14.5" cy="-2" r="7.5"/><circle cx="-8" cy="2.5" r="5"/></g><g transform="translate(-4.2,17.5)" fill="#1d9bea"><polygon points="6.09,-1.63 4.75,1.27 4.45,4.45 1.27,4.75 -1.63,6.09 -3.47,3.47 -6.09,1.63 -4.75,-1.27 -4.45,-4.45 -1.27,-4.75 1.63,-6.09 3.47,-3.47" stroke="#1d9bea" stroke-width="1.2" stroke-linejoin="round"/><circle cx="2.74" cy="0.73" r="0.75" fill="#6cc8fa"/><circle cx="0.73" cy="2.74" r="0.75" fill="#6cc8fa"/><circle cx="-2.00" cy="2.00" r="0.75" fill="#6cc8fa"/><circle cx="-2.74" cy="-0.73" r="0.75" fill="#6cc8fa"/><circle cx="-0.73" cy="-2.74" r="0.75" fill="#6cc8fa"/><circle cx="2.00" cy="-2.00" r="0.75" fill="#6cc8fa"/></g><path transform="translate(10.3,13)" d="M1.5,-5 C3,-2 4,0 3.8,1.5 A3.6 3.6 0 0 1 -3.4,1.5 C-3.4,-1 -0.5,-3 1.5,-5 Z" fill="#1d98e6"/></g>
<g transform="translate(374.93,415.25)" filter="url(#halo)"><g fill="#1b72a6" stroke="#1b72a6" stroke-width="1.3"><circle cx="20.5" cy="-11.5" r="7"/><circle cx="21.5" cy="-5.5" r="6"/><circle cx="17" cy="-2" r="4.5"/><circle cx="-8.5" cy="-7.5" r="7"/><circle cx="0" cy="-13.5" r="6.5"/><circle cx="1" cy="-2" r="9.8"/><circle cx="9" cy="-9.5" r="6"/><circle cx="12" cy="0" r="6.5"/><circle cx="14.5" cy="-6" r="5.5"/><rect x="-8" y="-6" width="20" height="14" rx="3"/><ellipse cx="-17.5" cy="1.5" rx="9.5" ry="6"/><circle cx="-14.5" cy="-2" r="7.5"/><circle cx="-8" cy="2.5" r="5"/></g><g fill="#1d8dd1" stroke="#1d8dd1" stroke-width="0.5"><circle cx="20.5" cy="-11.5" r="7"/><circle cx="21.5" cy="-5.5" r="6"/><circle cx="17" cy="-2" r="4.5"/></g><g fill="url(#gTeal)" stroke="url(#gTeal)" stroke-width="0.5"><circle cx="-8.5" cy="-7.5" r="7"/><circle cx="0" cy="-13.5" r="6.5"/><circle cx="1" cy="-2" r="9.8"/><circle cx="9" cy="-9.5" r="6"/><circle cx="12" cy="0" r="6.5"/><circle cx="14.5" cy="-6" r="5.5"/><rect x="-8" y="-6" width="20" height="14" rx="3"/></g><g fill="url(#gFront)" stroke="url(#gFront)" stroke-width="0.5"><ellipse cx="-17.5" cy="1.5" rx="9.5" ry="6"/><circle cx="-14.5" cy="-2" r="7.5"/><circle cx="-8" cy="2.5" r="5"/></g><g transform="translate(-6,16.7)" fill="#1d9bea"><polygon points="6.09,-1.63 4.75,1.27 4.45,4.45 1.27,4.75 -1.63,6.09 -3.47,3.47 -6.09,1.63 -4.75,-1.27 -4.45,-4.45 -1.27,-4.75 1.63,-6.09 3.47,-3.47" stroke="#1d9bea" stroke-width="1.2" stroke-linejoin="round"/><circle cx="2.74" cy="0.73" r="0.75" fill="#6cc8fa"/><circle cx="0.73" cy="2.74" r="0.75" fill="#6cc8fa"/><circle cx="-2.00" cy="2.00" r="0.75" fill="#6cc8fa"/><circle cx="-2.74" cy="-0.73" r="0.75" fill="#6cc8fa"/><circle cx="-0.73" cy="-2.74" r="0.75" fill="#6cc8fa"/><circle cx="2.00" cy="-2.00" r="0.75" fill="#6cc8fa"/></g><g transform="translate(10,13.6)" fill="#1d9bea"><polygon points="4.35,-1.16 3.39,0.91 3.18,3.18 0.91,3.39 -1.16,4.35 -2.48,2.48 -4.35,1.16 -3.39,-0.91 -3.18,-3.18 -0.91,-3.39 1.16,-4.35 2.48,-2.48" stroke="#1d9bea" stroke-width="1.2" stroke-linejoin="round"/><circle cx="1.96" cy="0.52" r="0.75" fill="#6cc8fa"/><circle cx="0.52" cy="1.96" r="0.75" fill="#6cc8fa"/><circle cx="-1.43" cy="1.43" r="0.75" fill="#6cc8fa"/><circle cx="-1.96" cy="-0.52" r="0.75" fill="#6cc8fa"/><circle cx="-0.52" cy="-1.96" r="0.75" fill="#6cc8fa"/><circle cx="1.43" cy="-1.43" r="0.75" fill="#6cc8fa"/></g></g>
<g transform="translate(530.14,415.25)" filter="url(#halo)"><g fill="#1b72a6" stroke="#1b72a6" stroke-width="1.3"><circle cx="20.5" cy="-11.5" r="7"/><circle cx="21.5" cy="-5.5" r="6"/><circle cx="17" cy="-2" r="4.5"/><circle cx="-8.5" cy="-7.5" r="7"/><circle cx="0" cy="-13.5" r="6.5"/><circle cx="1" cy="-2" r="9.8"/><circle cx="9" cy="-9.5" r="6"/><circle cx="12" cy="0" r="6.5"/><circle cx="14.5" cy="-6" r="5.5"/><rect x="-8" y="-6" width="20" height="14" rx="3"/><ellipse cx="-17.5" cy="1.5" rx="9.5" ry="6"/><circle cx="-14.5" cy="-2" r="7.5"/><circle cx="-8" cy="2.5" r="5"/></g><g fill="#1d8dd1" stroke="#1d8dd1" stroke-width="0.5"><circle cx="20.5" cy="-11.5" r="7"/><circle cx="21.5" cy="-5.5" r="6"/><circle cx="17" cy="-2" r="4.5"/></g><g fill="url(#gTeal)" stroke="url(#gTeal)" stroke-width="0.5"><circle cx="-8.5" cy="-7.5" r="7"/><circle cx="0" cy="-13.5" r="6.5"/><circle cx="1" cy="-2" r="9.8"/><circle cx="9" cy="-9.5" r="6"/><circle cx="12" cy="0" r="6.5"/><circle cx="14.5" cy="-6" r="5.5"/><rect x="-8" y="-6" width="20" height="14" rx="3"/></g><g fill="url(#gFront)" stroke="url(#gFront)" stroke-width="0.5"><ellipse cx="-17.5" cy="1.5" rx="9.5" ry="6"/><circle cx="-14.5" cy="-2" r="7.5"/><circle cx="-8" cy="2.5" r="5"/></g><g transform="translate(-6,16.7)" fill="#1d9bea"><polygon points="6.09,-1.63 4.75,1.27 4.45,4.45 1.27,4.75 -1.63,6.09 -3.47,3.47 -6.09,1.63 -4.75,-1.27 -4.45,-4.45 -1.27,-4.75 1.63,-6.09 3.47,-3.47" stroke="#1d9bea" stroke-width="1.2" stroke-linejoin="round"/><circle cx="2.74" cy="0.73" r="0.75" fill="#6cc8fa"/><circle cx="0.73" cy="2.74" r="0.75" fill="#6cc8fa"/><circle cx="-2.00" cy="2.00" r="0.75" fill="#6cc8fa"/><circle cx="-2.74" cy="-0.73" r="0.75" fill="#6cc8fa"/><circle cx="-0.73" cy="-2.74" r="0.75" fill="#6cc8fa"/><circle cx="2.00" cy="-2.00" r="0.75" fill="#6cc8fa"/></g></g>
<g transform="translate(685.36,415.25)" filter="url(#halo)"><g transform="translate(-5.7,-0.7)"><polygon points="16.00,0.00 13.14,2.61 14.78,6.12 11.14,7.44 11.31,11.31 7.44,11.14 6.12,14.78 2.61,13.14 0.00,16.00 -2.61,13.14 -6.12,14.78 -7.44,11.14 -11.31,11.31 -11.14,7.44 -14.78,6.12 -13.14,2.61 -16.00,0.00 -13.14,-2.61 -14.78,-6.12 -11.14,-7.44 -11.31,-11.31 -7.44,-11.14 -6.12,-14.78 -2.61,-13.14 -0.00,-16.00 2.61,-13.14 6.12,-14.78 7.44,-11.14 11.31,-11.31 11.14,-7.44 14.78,-6.12 13.14,-2.61" fill="#f3b328"/><circle r="11.20" fill="#f5b416" stroke="#fde58a" stroke-width="1.3"/></g><g fill="#c6dbf3" stroke="#c6dbf3" stroke-width="0.5"><circle cx="13" cy="-0.5" r="5"/><circle cx="18.5" cy="1" r="4.5"/><circle cx="21.5" cy="2" r="3.8"/><circle cx="14" cy="4" r="3.8"/><circle cx="19" cy="4" r="3.5"/></g><g fill="url(#gLight)" stroke="url(#gLight)" stroke-width="0.5"><circle cx="-19" cy="11" r="6"/><circle cx="-13" cy="6" r="6"/><circle cx="-6.5" cy="5.5" r="7"/><circle cx="1" cy="8.5" r="6"/><circle cx="4" cy="11" r="5.5"/><circle cx="-15" cy="14" r="4.5"/><circle cx="-7" cy="14" r="5.5"/><circle cx="1" cy="13.5" r="4.5"/><rect x="-19" y="6" width="23" height="11"/></g></g>
<g transform="translate(840.57,415.25)" filter="url(#halo)"><g transform="translate(-11.8,-3.2)"><polygon points="15.20,0.00 12.36,2.46 14.04,5.82 10.48,7.00 10.75,10.75 7.00,10.48 5.82,14.04 2.46,12.36 0.00,15.20 -2.46,12.36 -5.82,14.04 -7.00,10.48 -10.75,10.75 -10.48,7.00 -14.04,5.82 -12.36,2.46 -15.20,0.00 -12.36,-2.46 -14.04,-5.82 -10.48,-7.00 -10.75,-10.75 -7.00,-10.48 -5.82,-14.04 -2.46,-12.36 -0.00,-15.20 2.46,-12.36 5.82,-14.04 7.00,-10.48 10.75,-10.75 10.48,-7.00 14.04,-5.82 12.36,-2.46" fill="#f3b328"/><circle r="10.40" fill="#f7b900" stroke="#fde58a" stroke-width="1.3"/></g><g fill="url(#gLight2)" stroke="url(#gLight2)" stroke-width="0.5"><circle cx="-6.5" cy="12" r="5.5"/><circle cx="0" cy="7" r="6"/><circle cx="7" cy="2" r="7.4"/><circle cx="15" cy="5.5" r="5.5"/><circle cx="22" cy="8" r="6"/><circle cx="-2" cy="14" r="5"/><circle cx="6" cy="14.5" r="5.2"/><circle cx="14" cy="13.5" r="5"/><circle cx="21" cy="12" r="4.5"/><rect x="-6.5" y="7" width="28" height="10"/></g></g>
<g transform="translate(995.79,372.75)" filter="url(#halo)"><g fill="#1b72a6" stroke="#1b72a6" stroke-width="1.3"><circle cx="20.5" cy="-11.5" r="7"/><circle cx="21.5" cy="-5.5" r="6"/><circle cx="17" cy="-2" r="4.5"/><circle cx="-8.5" cy="-7.5" r="7"/><circle cx="0" cy="-13.5" r="6.5"/><circle cx="1" cy="-2" r="9.8"/><circle cx="9" cy="-9.5" r="6"/><circle cx="12" cy="0" r="6.5"/><circle cx="14.5" cy="-6" r="5.5"/><rect x="-8" y="-6" width="20" height="14" rx="3"/><ellipse cx="-17.5" cy="1.5" rx="9.5" ry="6"/><circle cx="-14.5" cy="-2" r="7.5"/><circle cx="-8" cy="2.5" r="5"/></g><g fill="#1d8dd1" stroke="#1d8dd1" stroke-width="0.5"><circle cx="20.5" cy="-11.5" r="7"/><circle cx="21.5" cy="-5.5" r="6"/><circle cx="17" cy="-2" r="4.5"/></g><g fill="url(#gTeal)" stroke="url(#gTeal)" stroke-width="0.5"><circle cx="-8.5" cy="-7.5" r="7"/><circle cx="0" cy="-13.5" r="6.5"/><circle cx="1" cy="-2" r="9.8"/><circle cx="9" cy="-9.5" r="6"/><circle cx="12" cy="0" r="6.5"/><circle cx="14.5" cy="-6" r="5.5"/><rect x="-8" y="-6" width="20" height="14" rx="3"/></g><g fill="url(#gFront)" stroke="url(#gFront)" stroke-width="0.5"><ellipse cx="-17.5" cy="1.5" rx="9.5" ry="6"/><circle cx="-14.5" cy="-2" r="7.5"/><circle cx="-8" cy="2.5" r="5"/></g><g transform="translate(-6.4,16.7)" fill="#1d9bea"><polygon points="6.09,-1.63 4.75,1.27 4.45,4.45 1.27,4.75 -1.63,6.09 -3.47,3.47 -6.09,1.63 -4.75,-1.27 -4.45,-4.45 -1.27,-4.75 1.63,-6.09 3.47,-3.47" stroke="#1d9bea" stroke-width="1.2" stroke-linejoin="round"/><circle cx="2.74" cy="0.73" r="0.75" fill="#6cc8fa"/><circle cx="0.73" cy="2.74" r="0.75" fill="#6cc8fa"/><circle cx="-2.00" cy="2.00" r="0.75" fill="#6cc8fa"/><circle cx="-2.74" cy="-0.73" r="0.75" fill="#6cc8fa"/><circle cx="-0.73" cy="-2.74" r="0.75" fill="#6cc8fa"/><circle cx="2.00" cy="-2.00" r="0.75" fill="#6cc8fa"/></g></g>
<text x="210.61" y="245.50" font-size="19.5" fill="#000" textLength="9.55" lengthAdjust="spacingAndGlyphs">1</text><circle cx="224.46" cy="234.60" r="2.75" fill="none" stroke="#000" stroke-width="1.35"/><rect x="210.56" y="242.88" width="4.11" height="3.52" fill="#fff"/><rect x="216.69" y="242.88" width="3.97" height="3.52" fill="#fff"/>
<text x="360.50" y="373.00" font-size="19.5" fill="#000" textLength="20.60" lengthAdjust="spacingAndGlyphs">-5</text><circle cx="385.28" cy="362.10" r="2.75" fill="none" stroke="#000" stroke-width="1.35"/>
<text x="515.71" y="373.00" font-size="19.5" fill="#000" textLength="20.60" lengthAdjust="spacingAndGlyphs">-5</text><circle cx="540.49" cy="362.10" r="2.75" fill="none" stroke="#000" stroke-width="1.35"/>
<text x="670.93" y="373.00" font-size="19.5" fill="#000" textLength="20.60" lengthAdjust="spacingAndGlyphs">-5</text><circle cx="695.71" cy="362.10" r="2.75" fill="none" stroke="#000" stroke-width="1.35"/>
<text x="826.14" y="373.00" font-size="19.5" fill="#000" textLength="20.60" lengthAdjust="spacingAndGlyphs">-5</text><circle cx="850.92" cy="362.10" r="2.75" fill="none" stroke="#000" stroke-width="1.35"/>
<text x="981.58" y="330.50" font-size="19.5" fill="#000" textLength="20.21" lengthAdjust="spacingAndGlyphs">-3</text><circle cx="1005.94" cy="319.60" r="2.75" fill="none" stroke="#000" stroke-width="1.35"/>
<text x="204.92" y="489.75" font-size="19.5" fill="#000" textLength="21.37" lengthAdjust="spacingAndGlyphs">-6</text><circle cx="230.39" cy="478.85" r="2.75" fill="none" stroke="#000" stroke-width="1.35"/>
<text x="360.50" y="468.50" font-size="19.5" fill="#000" textLength="20.60" lengthAdjust="spacingAndGlyphs">-5</text><circle cx="385.28" cy="457.60" r="2.75" fill="none" stroke="#000" stroke-width="1.35"/>
<text x="511.24" y="574.75" font-size="19.5" fill="#000" textLength="29.50" lengthAdjust="spacingAndGlyphs">-10</text><circle cx="545.09" cy="563.85" r="2.75" fill="none" stroke="#000" stroke-width="1.35"/><rect x="518.23" y="572.13" width="4.69" height="3.52" fill="#fff"/><rect x="525.22" y="572.13" width="4.53" height="3.52" fill="#fff"/>
<text x="667.73" y="638.50" font-size="19.5" fill="#000" textLength="27.05" lengthAdjust="spacingAndGlyphs">-13</text><circle cx="699.11" cy="627.60" r="2.75" fill="none" stroke="#000" stroke-width="1.35"/><rect x="674.03" y="635.88" width="4.39" height="3.52" fill="#fff"/><rect x="680.57" y="635.88" width="4.24" height="3.52" fill="#fff"/>
<text x="822.72" y="617.25" font-size="19.5" fill="#000" textLength="27.61" lengthAdjust="spacingAndGlyphs">-12</text><circle cx="854.52" cy="606.35" r="2.75" fill="none" stroke="#000" stroke-width="1.35"/><rect x="829.18" y="614.63" width="4.45" height="3.52" fill="#fff"/><rect x="835.83" y="614.63" width="4.31" height="3.52" fill="#fff"/>
<text x="980.63" y="532.25" font-size="19.5" fill="#000" textLength="22.08" lengthAdjust="spacingAndGlyphs">-8</text><circle cx="1006.79" cy="521.35" r="2.75" fill="none" stroke="#000" stroke-width="1.35"/>
</svg></body></html>
